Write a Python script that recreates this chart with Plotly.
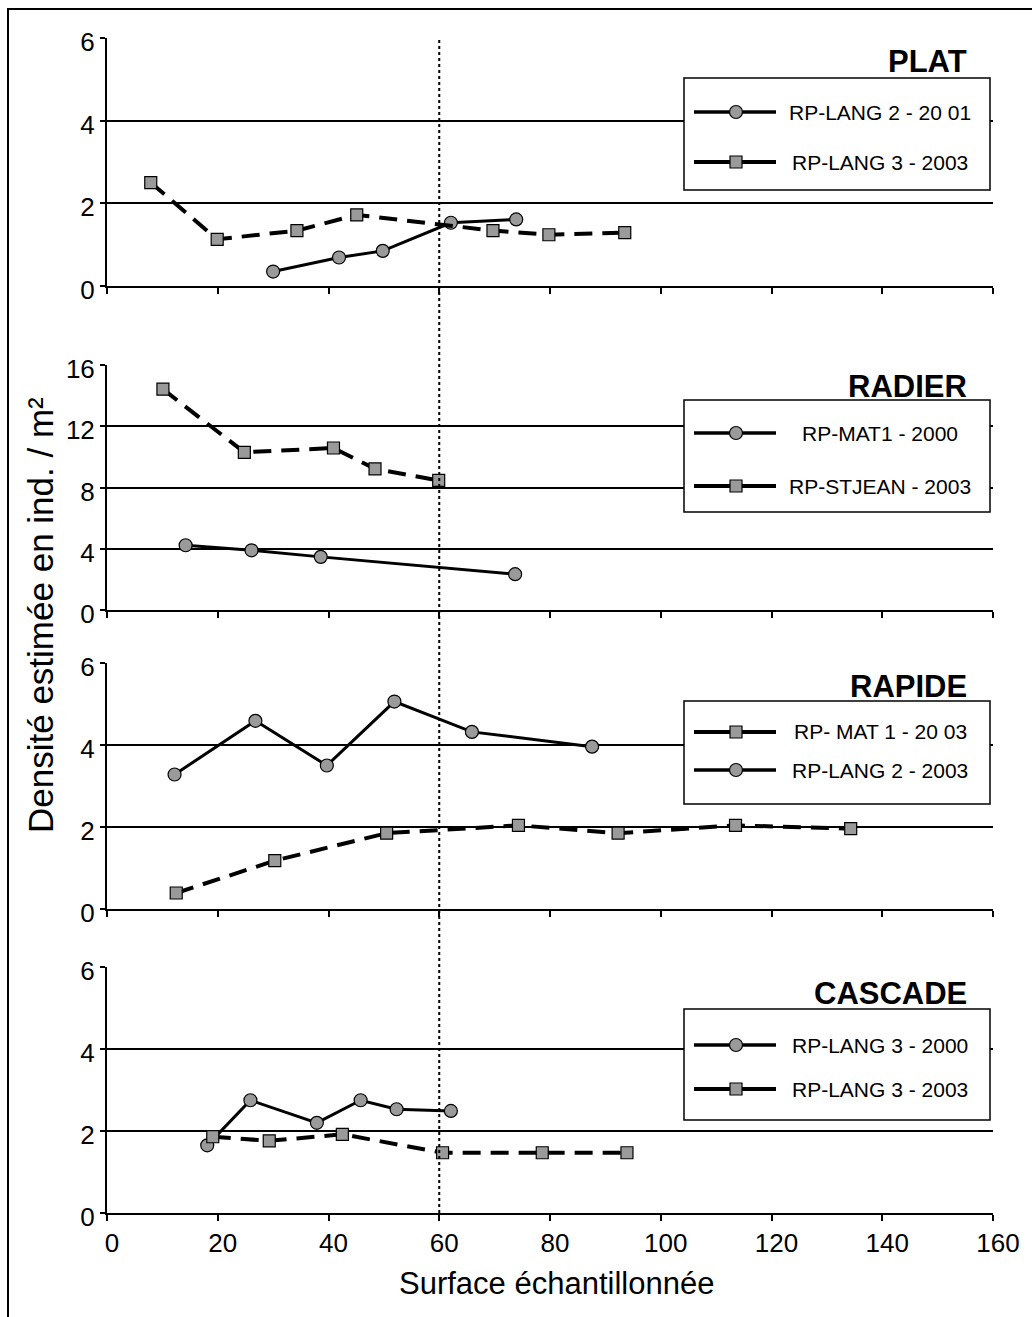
import plotly.graph_objects as go

# ---------------- data ----------------
x_tick_vals = [0, 20, 40, 60, 80, 100, 120, 140, 160]
panel_titles = ["PLAT", "RADIER", "RAPIDE", "CASCADE"]

plat_lang2_2001_name = "RP-LANG 2 - 20 01"
plat_lang2_2001_x = [30.0, 41.9, 49.8, 62.1, 73.9]
plat_lang2_2001_y = [0.35, 0.69, 0.85, 1.53, 1.61]
plat_lang3_2003_name = "RP-LANG 3 - 2003"
plat_lang3_2003_x = [7.9, 19.9, 34.3, 45.1, 69.7, 79.8, 93.5]
plat_lang3_2003_y = [2.50, 1.13, 1.34, 1.72, 1.34, 1.24, 1.29]

radier_mat1_2000_name = "RP-MAT1 - 2000"
radier_mat1_2000_x = [14.2, 26.1, 38.6, 73.7]
radier_mat1_2000_y = [4.23, 3.90, 3.47, 2.34]
radier_stjean_2003_name = "RP-STJEAN - 2003"
radier_stjean_2003_x = [10.1, 24.8, 40.9, 48.4, 59.9]
radier_stjean_2003_y = [14.42, 10.30, 10.58, 9.22, 8.46]

rapide_mat1_2003_name = "RP- MAT 1 - 20 03"
rapide_mat1_2003_x = [12.5, 30.3, 50.5, 74.3, 92.3, 113.5, 134.3]
rapide_mat1_2003_y = [0.39, 1.18, 1.85, 2.04, 1.85, 2.04, 1.96]
rapide_lang2_2003_name = "RP-LANG 2 - 2003"
rapide_lang2_2003_x = [12.2, 26.8, 39.7, 51.9, 65.9, 87.6]
rapide_lang2_2003_y = [3.28, 4.59, 3.50, 5.06, 4.32, 3.96]

cascade_lang3_2000_name = "RP-LANG 3 - 2000"
cascade_lang3_2000_x = [18.1, 25.9, 37.9, 45.8, 52.3, 62.1]
cascade_lang3_2000_y = [1.65, 2.75, 2.20, 2.75, 2.53, 2.49]
cascade_lang3_2003_name = "RP-LANG 3 - 2003"
cascade_lang3_2003_x = [19.1, 29.3, 42.5, 60.6, 78.6, 93.9]
cascade_lang3_2003_y = [1.86, 1.76, 1.92, 1.47, 1.47, 1.47]

y_ranges = [[0, 6], [0, 16], [0, 6], [0, 6]]
y_dticks = [2, 4, 2, 2]

# ---------------- style ----------------
FONT = "Arial, 'Liberation Sans', sans-serif"
GREY = "#9a9a9a"

W, H = 1032, 1317
ML, MR, MT, MB = 107, 1032 - 993, 38, 1317 - 1213
PH = H - MT - MB
PW = W - ML - MR


def py(px):
    return (H - MB - px) / PH


def pxx(px):
    return (px - ML) / PW


domains = [
    [py(286), py(38)],
    [py(610), py(365)],
    [py(909), py(663)],
    [py(1213), py(967)],
]

CIRCLE_SIZE = 13
SQUARE_SIZE = 12


def ax_names(panel):
    s = "" if panel == 1 else str(panel)
    return "x" + s, "y" + s


def solid_circle(x, y, name, panel):
    xa, ya = ax_names(panel)
    return go.Scatter(
        x=x, y=y, name=name, mode="lines+markers", showlegend=False,
        line=dict(color="black", width=3),
        marker=dict(symbol="circle", size=CIRCLE_SIZE, color=GREY,
                    line=dict(color="black", width=1.2)),
        xaxis=xa, yaxis=ya,
    )


def dashed_square(x, y, name, panel):
    xa, ya = ax_names(panel)
    return go.Scatter(
        x=x, y=y, name=name, mode="lines+markers", showlegend=False,
        line=dict(color="black", width=4, dash="18px,10px"),
        marker=dict(symbol="square", size=SQUARE_SIZE, color=GREY,
                    line=dict(color="black", width=1.2)),
        xaxis=xa, yaxis=ya,
    )


fig = go.Figure()
fig.add_trace(solid_circle(plat_lang2_2001_x, plat_lang2_2001_y, plat_lang2_2001_name, 1))
fig.add_trace(dashed_square(plat_lang3_2003_x, plat_lang3_2003_y, plat_lang3_2003_name, 1))
fig.add_trace(solid_circle(radier_mat1_2000_x, radier_mat1_2000_y, radier_mat1_2000_name, 2))
fig.add_trace(dashed_square(radier_stjean_2003_x, radier_stjean_2003_y, radier_stjean_2003_name, 2))
fig.add_trace(dashed_square(rapide_mat1_2003_x, rapide_mat1_2003_y, rapide_mat1_2003_name, 3))
fig.add_trace(solid_circle(rapide_lang2_2003_x, rapide_lang2_2003_y, rapide_lang2_2003_name, 3))
fig.add_trace(solid_circle(cascade_lang3_2000_x, cascade_lang3_2000_y, cascade_lang3_2000_name, 4))
fig.add_trace(dashed_square(cascade_lang3_2003_x, cascade_lang3_2003_y, cascade_lang3_2003_name, 4))

layout = dict(
    width=W, height=H,
    margin=dict(l=ML, r=MR, t=MT, b=MB, pad=0),
    paper_bgcolor="white", plot_bgcolor="white",
    font=dict(family=FONT, color="black"),
    showlegend=False,
)

for i in range(1, 5):
    sx = "" if i == 1 else str(i)
    layout[f"xaxis{sx}"] = dict(
        domain=[0, 1], anchor=f"y{sx}", range=[0, 160],
        tickmode="array", tickvals=x_tick_vals,
        showline=True, linecolor="black", linewidth=2,
        ticks="outside", ticklen=6, tickwidth=1.5, tickcolor="black",
        showgrid=False, zeroline=False,
        showticklabels=(i == 4),
        ticklabelshift=5,
        tickfont=dict(family=FONT, size=26, color="black"),
        **({} if i == 1 else {"matches": "x"}),
    )
    layout[f"yaxis{sx}"] = dict(
        domain=domains[i - 1], anchor=f"x{sx}",
        range=y_ranges[i - 1], dtick=y_dticks[i - 1], tick0=0,
        showline=True, linecolor="black", linewidth=2,
        ticks="outside", ticklen=5, tickwidth=1.5, tickcolor="black",
        showgrid=True, gridcolor="black", gridwidth=1.6,
        zeroline=False, ticklabelshift=4,
        tickfont=dict(family=FONT, size=26, color="black"),
    )

fig.update_layout(**layout)

# ---------------- manual legends ----------------
LEG_X0, LEG_X1 = 684, 990
SW_X0, SW_X1, SW_MID = 694, 776, 736
TEXT_MID = 880
legend_specs = [
    (78, 190, [112, 162], [("circle", plat_lang2_2001_name), ("square", plat_lang3_2003_name)]),
    (400, 512, [433, 486], [("circle", radier_mat1_2000_name), ("square", radier_stjean_2003_name)]),
    (701, 804, [732, 770], [("square", rapide_mat1_2003_name), ("circle", rapide_lang2_2003_name)]),
    (1009, 1120, [1045, 1089], [("circle", cascade_lang3_2000_name), ("square", cascade_lang3_2003_name)]),
]
for top, bot, rows, items in legend_specs:
    fig.add_shape(type="rect", xref="paper", yref="paper",
                  x0=pxx(LEG_X0), x1=pxx(LEG_X1), y0=py(bot), y1=py(top),
                  line=dict(color="black", width=1.5), fillcolor="white", layer="above")
    for (kind, name), ry in zip(items, rows):
        fig.add_shape(type="line", xref="paper", yref="paper",
                      x0=pxx(SW_X0), x1=pxx(SW_X1), y0=py(ry), y1=py(ry),
                      line=dict(color="black", width=4 if kind == "square" else 3.5),
                      layer="above")
        if kind == "circle":
            r = CIRCLE_SIZE / 2
            fig.add_shape(type="circle", xref="paper", yref="paper",
                          x0=pxx(SW_MID - r), x1=pxx(SW_MID + r),
                          y0=py(ry + r), y1=py(ry - r),
                          line=dict(color="black", width=1.2), fillcolor=GREY, layer="above")
        else:
            r = SQUARE_SIZE / 2
            fig.add_shape(type="rect", xref="paper", yref="paper",
                          x0=pxx(SW_MID - r), x1=pxx(SW_MID + r),
                          y0=py(ry + r), y1=py(ry - r),
                          line=dict(color="black", width=1.2), fillcolor=GREY, layer="above")
        fig.add_annotation(text=name, x=pxx(TEXT_MID), y=py(ry),
                           xref="paper", yref="paper", xanchor="center", yanchor="middle",
                           showarrow=False, font=dict(family=FONT, size=21, color="black"))

# panel titles
title_y = [py(61), py(386), py(686), py(993)]
for t, yy in zip(panel_titles, title_y):
    fig.add_annotation(
        text=f"<b>{t}</b>", x=pxx(969), y=yy, xref="paper", yref="paper",
        xanchor="right", yanchor="middle", showarrow=False,
        font=dict(family=FONT, size=31, color="black"),
    )

# axis titles
fig.add_annotation(
    text="Densité estimée en ind. / m²", x=pxx(40), y=py(615),
    xref="paper", yref="paper", xanchor="center", yanchor="middle",
    textangle=-90, showarrow=False,
    font=dict(family=FONT, size=35, color="black"),
)
fig.add_annotation(
    text="Surface échantillonnée", x=pxx(556), y=py(1283),
    xref="paper", yref="paper", xanchor="center", yanchor="middle",
    showarrow=False, font=dict(family=FONT, size=31, color="black"),
)

# vertical dotted reference line at 60
fig.add_shape(
    type="line", xref="x", yref="paper", x0=60, x1=60, y0=0, y1=1,
    line=dict(color="black", width=2, dash="dot"), layer="above",
)

# outer frame (left/top edges visible)
fig.add_shape(
    type="rect", xref="paper", yref="paper",
    x0=pxx(8), x1=pxx(1200), y0=py(1500), y1=py(9),
    line=dict(color="black", width=2), fillcolor="rgba(0,0,0,0)", layer="above",
)

fig.write_html("out.html")
